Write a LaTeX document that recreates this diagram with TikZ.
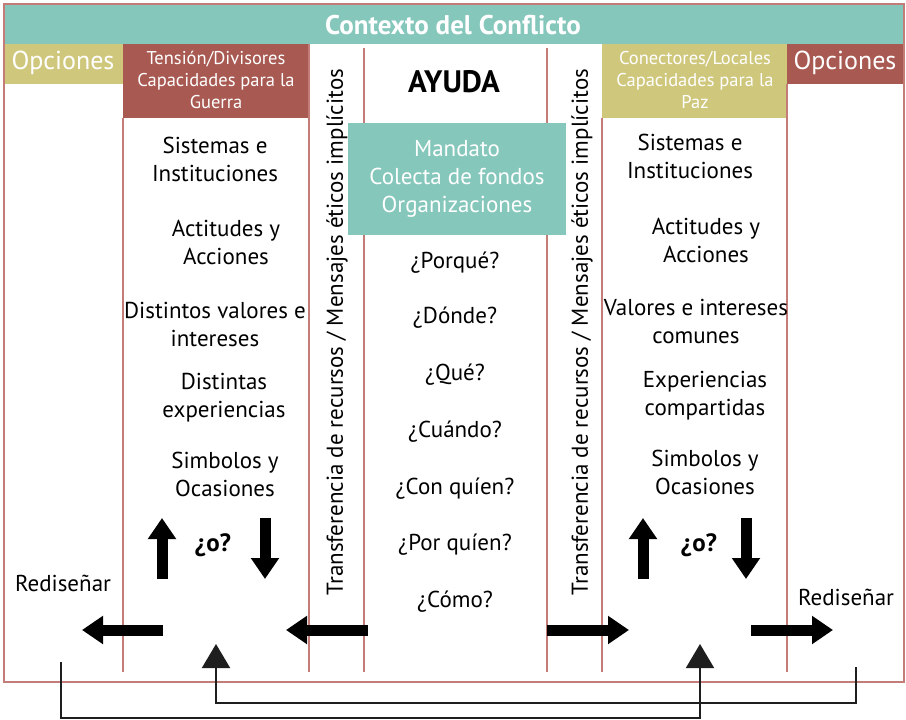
\documentclass[tikz,border=0pt]{standalone}
\usepackage{fontspec}
\setmainfont{PT Sans}
\usepackage{xcolor}
\usepackage{tikz}
\usetikzlibrary{arrows.meta, positioning}

\definecolor{tealc}{HTML}{86C7BC}
\definecolor{olivec}{HTML}{CFC77C}
\definecolor{brickc}{HTML}{A85A52}
\definecolor{rulec}{HTML}{C47C78}
\definecolor{linkc}{HTML}{1E1E1E}

\begin{document}
\begin{tikzpicture}[x=1pt, y=-1pt,
    band/.style={fill=#1, draw=none},
    colrule/.style={draw=rulec, line width=1.8pt},
    head/.style={text=white, font=\fontsize{26}{30}\selectfont},
    subhead/.style={text=white, align=center, font=\fontsize{18.5}{22}\selectfont},
    item/.style={align=center, font=\fontsize{23}{28}\selectfont},
    vlabel/.style={rotate=90, font=\fontsize{23}{26}\selectfont},
    blockarrow/.style={line width=11pt, -{Triangle[width=27pt, length=21pt]}},
    link/.style={draw=linkc, line width=1.8pt, -{Triangle[width=28pt, length=24pt]}}]

    \useasboundingbox (0,0) rectangle (906,720);

    % marco y franjas
    \fill[band=tealc] (5,5) rectangle (903,44);
    \fill[band=olivec] (5,44) rectangle (123,84);
    \fill[band=brickc] (123,44) rectangle (309,118);
    \fill[band=olivec] (602,44) rectangle (787,118);
    \fill[band=brickc] (787,44) rectangle (903,84);
    \draw[draw=rulec, line width=2pt] (4,4) rectangle (904,682);
    \foreach \xc/\ys in {123/118, 309/44, 364/48, 547/48, 602/118, 787/84}
        \draw[colrule] (\xc,\ys) -- (\xc,672);

    \node[text=white, font=\bfseries\fontsize{27}{30}\selectfont] (ctx) at (453,25) {Contexto del Conflicto};
    \node[head] (optL) at (63,63) {Opciones};
    \node[head] (optR) at (845,63) {Opciones};
    \node[subhead] (tension) at (216,80) {Tensión/Divisores\\Capacidades para la\\Guerra};
    \node[subhead] (conect) at (695,80) {Conectores/Locales\\Capacidades para la\\Paz};

    % ayuda
    \node[font=\bfseries\fontsize{31}{34}\selectfont] (ayuda) at (454,82) {AYUDA};
    \node[fill=tealc, text=white, align=center, minimum width=218pt, minimum height=112pt,
          font=\fontsize{23}{28}\selectfont] (mandato) at (457,179) {Mandato\\Colecta de fondos\\Organizaciones};
    \foreach \q/\yq [count=\i] in {¿Porqué?/263, ¿Dónde?/318, ¿Qué?/375, ¿Cuándo?/432,
        ¿Con quíen?/489, ¿Por quíen?/545, ¿Cómo?/602}
        \node[item] (q\i) at (455,\yq) {\q};

    \node[vlabel] (transL) at (337,332) {Transferencia de recursos / Mensajes éticos implícitos};
    \node[vlabel] (transR) at (582,332) {Transferencia de recursos / Mensajes éticos implícitos};

    % columna izquierda
    \node[item] (sisL) at (215,159) {Sistemas e\\Instituciones};
    \node[item] (actL) at (226,242) {Actitudes y\\Acciones};
    \node[item] (valL) at (215,324) {Distintos valores e\\intereses};
    \node[item] (expL) at (224,398) {Distintas\\experiencias};
    \node[item] (simL) at (225,474) {Simbolos y\\Ocasiones};

    % columna derecha
    \node[item] (sisR) at (690,156) {Sistemas e\\Instituciones};
    \node[item] (actR) at (706,240) {Actitudes y\\Acciones};
    \node[item] (valR) at (696,321) {Valores e intereses\\comunes};
    \node[item] (expR) at (705,396) {Experiencias\\compartidas};
    \node[item] (simR) at (705,472) {Simbolos y\\Ocasiones};

    % ¿o?
    \node[font=\bfseries\fontsize{25}{28}\selectfont] (orL) at (213,545) {¿o?};
    \node[font=\bfseries\fontsize{25}{28}\selectfont] (orR) at (699,545) {¿o?};
    \draw[blockarrow] (162,579) -- (162,518);
    \draw[blockarrow] (265,518) -- (265,579);
    \draw[blockarrow] (643,579) -- (643,518);
    \draw[blockarrow] (746,518) -- (746,579);

    \node[item] (redL) at (63,583) {Rediseñar};
    \node[item] (redR) at (846,597) {Rediseñar};

    % flechas horizontales
    \draw[blockarrow] (163,630) -- (82,630);
    \draw[blockarrow] (368,630) -- (286,630);
    \draw[blockarrow] (547,630) -- (629,630);
    \draw[blockarrow] (751,630) -- (833,630);

    % retroalimentacion
    \coordinate (srcL) at (61,662);
    \coordinate (srcR) at (856,667);
    \coordinate (tipL) at (216,644);
    \coordinate (tipR) at (700,644);
    \draw[link] (srcL) -- ++(0,56) -| (tipR);
    \draw[link] (srcR) -- ++(0,36) -| (tipL);
\end{tikzpicture}
\end{document}
